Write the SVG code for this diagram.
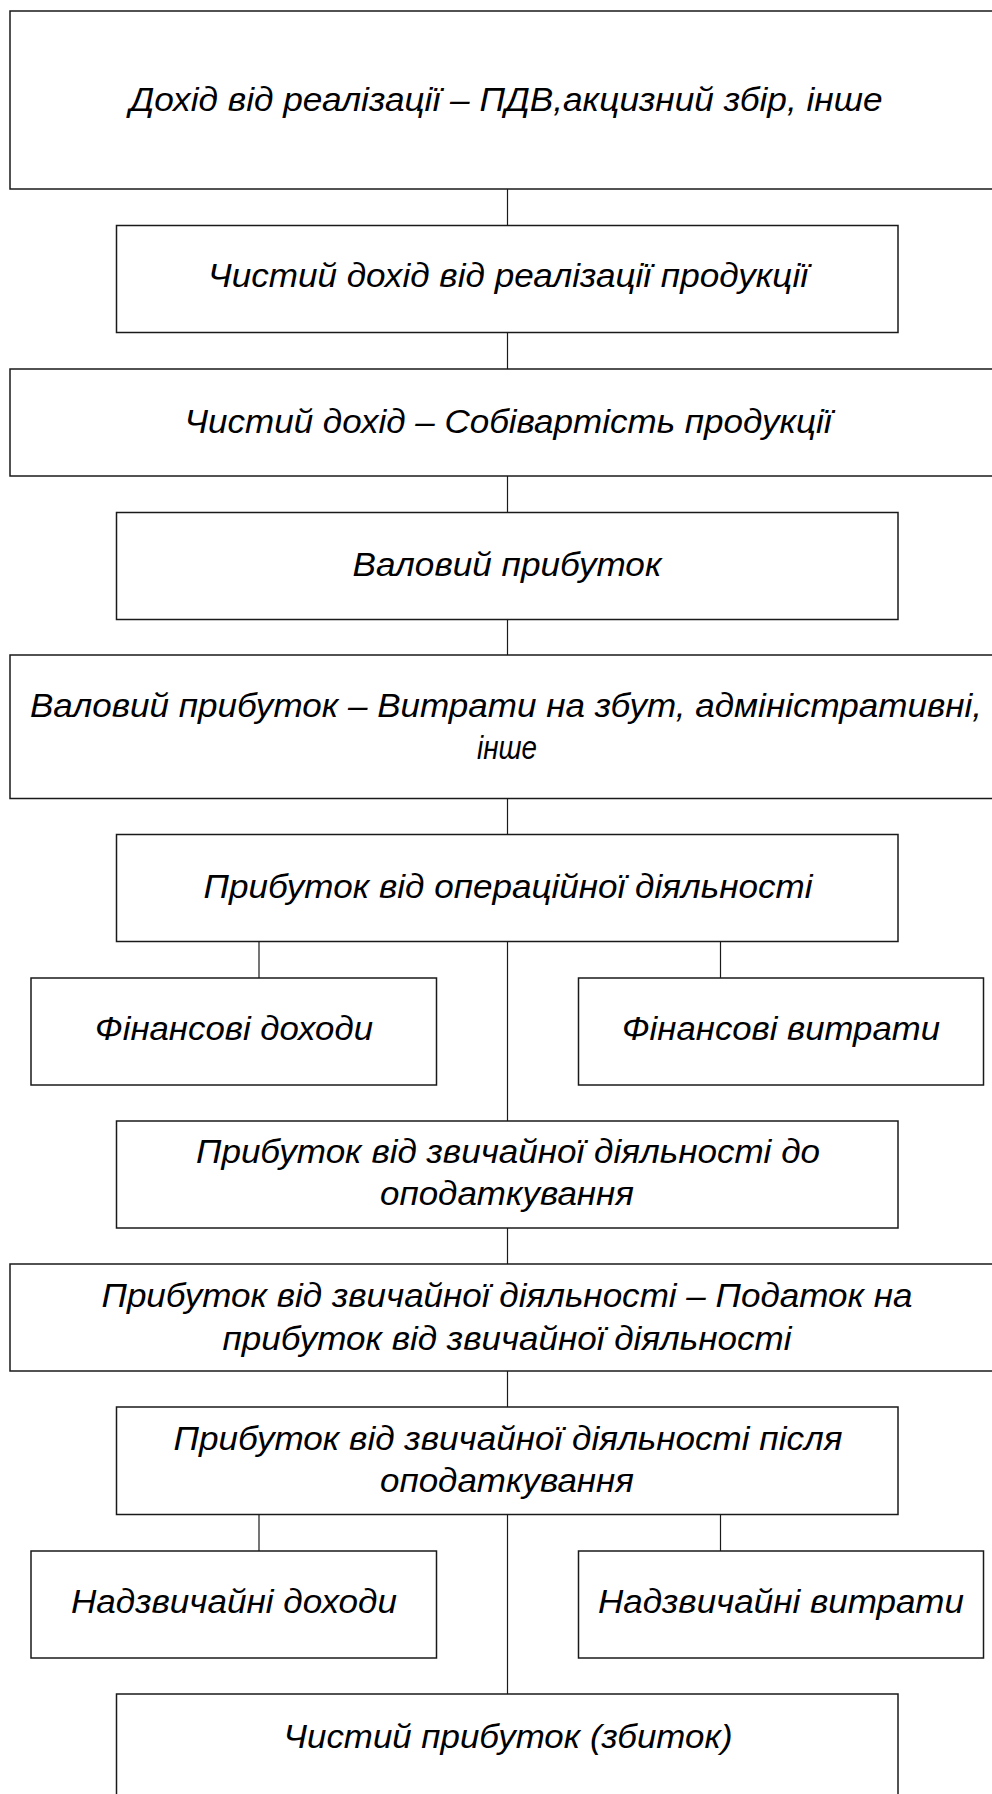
<svg xmlns="http://www.w3.org/2000/svg" width="992" height="1794" viewBox="0 0 992 1794">
<style>
.box{fill:#fff;stroke:#1a1a1a;stroke-width:1.5}
.conn line{stroke:#1a1a1a;stroke-width:1.2}
text{font-family:"Liberation Sans",Arial,sans-serif;font-style:italic;font-size:33px;fill:#000;text-anchor:middle}
</style>
<rect width="992" height="1794" fill="#fff"/>
<g id="connectors" class="conn">
<line x1="507.5" y1="189" x2="507.5" y2="225.5"/>
<line x1="507.5" y1="332.5" x2="507.5" y2="369"/>
<line x1="507.5" y1="476" x2="507.5" y2="512.5"/>
<line x1="507.5" y1="619.5" x2="507.5" y2="655"/>
<line x1="507.5" y1="798.5" x2="507.5" y2="834.5"/>
<line x1="507.5" y1="941.5" x2="507.5" y2="1121"/>
<line x1="507.5" y1="1228" x2="507.5" y2="1264"/>
<line x1="507.5" y1="1371" x2="507.5" y2="1407"/>
<line x1="507.5" y1="1514.5" x2="507.5" y2="1694"/>
<line x1="259" y1="941.5" x2="259" y2="978"/>
<line x1="720.5" y1="941.5" x2="720.5" y2="978"/>
<line x1="259" y1="1514.5" x2="259" y2="1551"/>
<line x1="720.5" y1="1514.5" x2="720.5" y2="1551"/>
</g>
<g id="n1"><rect class="box" x="10" y="11" width="994" height="178"/><text x="506" y="111" textLength="753" lengthAdjust="spacingAndGlyphs">Дохід від реалізації – ПДВ,акцизний збір, інше</text></g>
<g id="n2"><rect class="box" x="116.5" y="225.5" width="781.5" height="107"/><text x="508" y="287" textLength="600" lengthAdjust="spacingAndGlyphs">Чистий дохід від реалізації продукції</text></g>
<g id="n3"><rect class="box" x="10" y="369" width="994" height="107"/><text x="508" y="433" textLength="647" lengthAdjust="spacingAndGlyphs">Чистий дохід – Собівартість продукції</text></g>
<g id="n4"><rect class="box" x="116.5" y="512.5" width="781.5" height="107"/><text x="507" y="576" textLength="309" lengthAdjust="spacingAndGlyphs">Валовий прибуток</text></g>
<g id="n5"><rect class="box" x="10" y="655" width="994" height="143.5"/><text x="506" y="717" textLength="952" lengthAdjust="spacingAndGlyphs">Валовий прибуток – Витрати на збут, адміністративні,</text><text x="507" y="759" textLength="60" lengthAdjust="spacingAndGlyphs">інше</text></g>
<g id="n6"><rect class="box" x="116.5" y="834.5" width="781.5" height="107"/><text x="508" y="898" textLength="609" lengthAdjust="spacingAndGlyphs">Прибуток від операційної діяльності</text></g>
<g id="n7"><rect class="box" x="31" y="978" width="405.5" height="107"/><text x="234" y="1040" textLength="278" lengthAdjust="spacingAndGlyphs">Фінансові доходи</text></g>
<g id="n8"><rect class="box" x="578.5" y="978" width="405" height="107"/><text x="781" y="1040" textLength="318" lengthAdjust="spacingAndGlyphs">Фінансові витрати</text></g>
<g id="n9"><rect class="box" x="116.5" y="1121" width="781.5" height="107"/><text x="508" y="1163" textLength="624" lengthAdjust="spacingAndGlyphs">Прибуток від звичайної діяльності до</text><text x="507" y="1205" textLength="254" lengthAdjust="spacingAndGlyphs">оподаткування</text></g>
<g id="n10"><rect class="box" x="10" y="1264" width="994" height="107"/><text x="507" y="1307" textLength="811" lengthAdjust="spacingAndGlyphs">Прибуток від звичайної діяльності – Податок на</text><text x="507" y="1350" textLength="569" lengthAdjust="spacingAndGlyphs">прибуток від звичайної діяльності</text></g>
<g id="n11"><rect class="box" x="116.5" y="1407" width="781.5" height="107.5"/><text x="508" y="1450" textLength="669" lengthAdjust="spacingAndGlyphs">Прибуток від звичайної діяльності після</text><text x="507" y="1492" textLength="254" lengthAdjust="spacingAndGlyphs">оподаткування</text></g>
<g id="n12"><rect class="box" x="31" y="1551" width="405.5" height="107"/><text x="234" y="1613" textLength="326" lengthAdjust="spacingAndGlyphs">Надзвичайні доходи</text></g>
<g id="n13"><rect class="box" x="578.5" y="1551" width="405" height="107"/><text x="781" y="1613" textLength="366" lengthAdjust="spacingAndGlyphs">Надзвичайні витрати</text></g>
<g id="n14"><rect class="box" x="116.5" y="1694" width="781.5" height="150"/><text x="508" y="1748" textLength="449" lengthAdjust="spacingAndGlyphs">Чистий прибуток (збиток)</text></g>
</svg>
